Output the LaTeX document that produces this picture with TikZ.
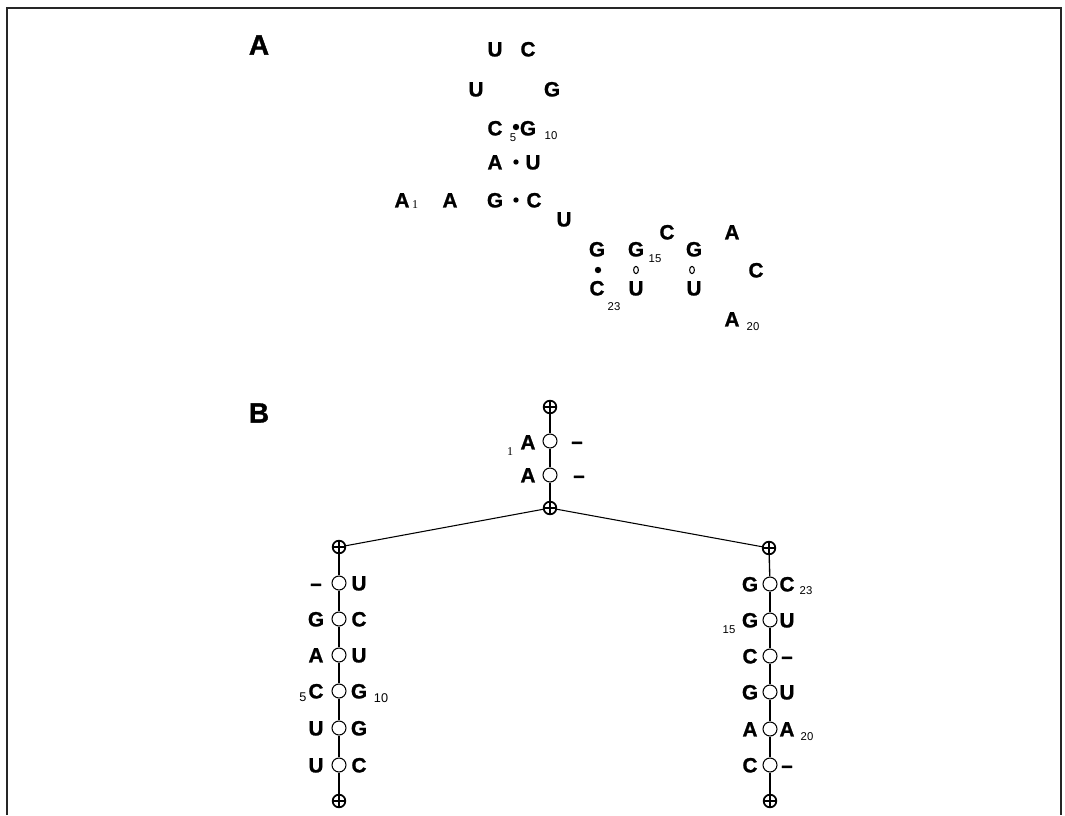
\documentclass[tikz,border=0pt]{standalone}
\usepackage{fontspec}
\setmainfont{Liberation Sans}
\newfontfamily\serifdigits{Liberation Serif}
\newfontfamily\heavyfont{Liberation Sans Bold}[FakeBold=1.2]
\usetikzlibrary{shapes.geometric}
\tikzset{
  base/.style={font=\heavyfont\fontsize{15.5}{16}\selectfont, inner sep=0pt, text height=11.1pt, text depth=0pt},
  panel/.style={font=\heavyfont\fontsize{21}{22}\selectfont, inner sep=0pt},
  sub/.style={font=\fontsize{8.5}{9}\selectfont, inner sep=0pt},
  subserif/.style={font=\serifdigits\fontsize{9}{10}\selectfont, inner sep=0pt},
  pairdot/.style={circle, fill=black, inner sep=0pt, minimum size=4.8pt},
  wobble/.style={ellipse, draw, line width=0.8pt, inner sep=0pt, minimum width=3.6pt, minimum height=5.4pt},
  ring/.style={circle, draw, fill=white, line width=0.8pt, minimum size=10.5pt, inner sep=0pt},
  term/.style={circle, draw, line width=1.3pt, minimum size=9.5pt, inner sep=0pt,
    path picture={\draw[line width=1.2pt] (path picture bounding box.north) -- (path picture bounding box.south)
      (path picture bounding box.west) -- (path picture bounding box.east);}},
  stem/.style={line width=1pt},
  branch/.style={line width=0.8pt},
  frame/.style={line width=1.5pt, draw=black!85}
}
\begin{document}
\begin{tikzpicture}[x=0.75pt, y=-0.75pt]
\useasboundingbox (0,0) rectangle (1065,815);
\draw[frame] (7,815) -- (7,7.5) -- (1061,7.5) -- (1061,815);

% ---------- Panel A ----------
\node[panel] (labA) at (259,45) {A};
\node[base] (a19) at (495,49) {U};
\node[base] (a18) at (528,49) {C};
\node[base] (a17) at (476,89) {U};
\node[base] (a16) at (552,89) {G};
\node[base] (a5) at (495,128) {C};
\node[pairdot] (p5) at (516,127) {};
\node[base] (a10) at (528,128) {G};
\node[sub] (s5) at (513,138) {5};
\node[sub] (s10) at (551,136) {10};
\node[base] (a4) at (495,162) {A};
\node[pairdot, minimum size=4pt] (p4) at (516,162) {};
\node[base] (a11) at (533,162) {U};
\node[base] (a1) at (402,200) {A};
\node[subserif] (s1) at (415,205) {1};
\node[base] (a2) at (450,200) {A};
\node[base] (a3) at (495,200) {G};
\node[pairdot, minimum size=4pt] (p3) at (516,200) {};
\node[base] (a12) at (534,200) {C};
\node[base] (a13) at (564,219) {U};
\node[base] (a14) at (597,249) {G};
\node[base] (a15) at (636,249) {G};
\node[sub] (s15) at (655,259) {15};
\node[base] (a16b) at (667,232) {C};
\node[base] (a17b) at (694,249) {G};
\node[base] (a18b) at (732,232) {A};
\node[base] (a19b) at (756,270) {C};
\node[pairdot] (p14) at (598,270) {};
\node[wobble] (w15) at (636,270) {};
\node[wobble] (w17) at (692,270) {};
\node[base] (a23) at (597,288) {C};
\node[sub] (s23) at (614,307) {23};
\node[base] (a22) at (636,288) {U};
\node[base] (a21) at (694,288) {U};
\node[base] (a20) at (732,319) {A};
\node[sub] (s20) at (753,327) {20};

% ---------- Panel B ----------
\node[panel] (labB) at (259,413) {B};
\node[term] (T0) at (550,407) {};
\node[ring] (t1) at (550,441) {};
\node[ring] (t2) at (550,475) {};
\node[term] (T3) at (550,508) {};
\node[base] (ta1) at (528,442) {A};
\node[subserif] (ts1) at (510,452) {1};
\node[base] (tb1) at (577,441) {–};
\node[base] (ta2) at (528,475) {A};
\node[base] (tb2) at (579,475) {–};
\draw[stem] (T0) -- (t1);
\draw[stem] (t1) -- (t2);
\draw[stem] (t2) -- (T3);

% left branch
\node[term] (L0) at (339,547) {};
\foreach \i/\yy/\a/\b in {1/583/–/U, 2/619/G/C, 3/655/A/U, 4/691/C/G, 5/728/U/G, 6/765/U/C}{
  \node[ring] (l\i) at (339,\yy) {};
  \node[base] (la\i) at (316,\yy) {\a};
  \node[base] (lb\i) at (359,\yy) {\b};
}
\node[term] (L7) at (339,801) {};
\node[sub, font=\fontsize{9.5}{10}\selectfont] (ls5) at (303,697) {5};
\node[sub, font=\fontsize{9.5}{10}\selectfont] (ls10) at (381,698) {10};
\draw[stem] (L0) -- (l1);
\foreach \i [evaluate=\i as \j using int(\i+1)] in {1,...,5}{\draw[stem] (l\i) -- (l\j);}
\draw[stem] (l6) -- (L7);

% right branch
\node[term] (R0) at (769,548) {};
\foreach \i/\yy/\a/\b in {1/584/G/C, 2/620/G/U, 3/656/C/–, 4/692/G/U, 5/729/A/A, 6/765/C/–}{
  \node[ring] (r\i) at (770,\yy) {};
  \node[base] (ra\i) at (750,\yy) {\a};
  \node[base] (rb\i) at (787,\yy) {\b};
}
\node[term] (R7) at (770,801) {};
\node[sub] (rs23) at (806,591) {23};
\node[sub] (rs15) at (729,630) {15};
\node[sub] (rs20) at (807,737) {20};
\draw[stem] (R0) -- (r1);
\foreach \i [evaluate=\i as \j using int(\i+1)] in {1,...,5}{\draw[stem] (r\i) -- (r\j);}
\draw[stem] (r6) -- (R7);

% branches
\draw[branch] (T3) -- (L0);
\draw[branch] (T3) -- (R0);
\end{tikzpicture}
\end{document}
